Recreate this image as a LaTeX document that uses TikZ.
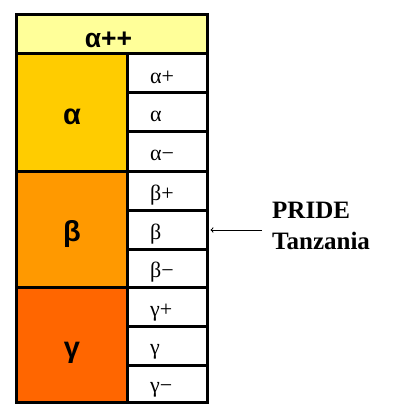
\documentclass[tikz,border=0pt]{standalone}
\usepackage{fontspec}
\setmainfont{Liberation Serif}
\newfontfamily\hdfont{Liberation Sans}
\begin{document}
\begin{tikzpicture}[x=1pt,y=-1pt,
  cell/.style={draw=black,line width=3pt,inner sep=0pt,anchor=north west},
  hdr/.style={font=\hdfont\bfseries\fontsize{26.5}{30}\selectfont,inner sep=0pt},
  big/.style={font=\hdfont\bfseries\fontsize{29}{32}\selectfont,inner sep=0pt},
  small/.style={font=\fontsize{22}{26}\selectfont,inner sep=0pt,anchor=west},
  lbl/.style={font=\bfseries\fontsize{25}{31}\selectfont,align=left,inner sep=0pt}]
\useasboundingbox (0,0) rectangle (393,412);
\definecolor{hdyellow}{HTML}{FFFF99}
\definecolor{ca}{HTML}{FFCC00}
\definecolor{cb}{HTML}{FF9900}
\definecolor{cg}{HTML}{FF6600}
% header
\node[cell,fill=hdyellow,minimum width=191pt,minimum height=39pt] (hd) at (15,13) {};
\node[hdr] (hdt) at (108.5,39.5) {α++};
% left blocks
\node[cell,fill=ca,minimum width=111pt,minimum height=118pt] (A) at (15,52) {};
\node[cell,fill=cb,minimum width=111pt,minimum height=116pt] (B) at (15,170) {};
\node[cell,fill=cg,minimum width=111pt,minimum height=115pt] (G) at (15,286) {};
\node[big] (At) at ([yshift=-4.5pt]A.center) {α};
\node[big] (Bt) at ([yshift=-4pt]B.center) {β};
\node[big] (Gt) at ([yshift=-8pt]G.center) {γ};
% sub cells
\node[cell,fill=white,minimum width=80pt,minimum height=39pt] (a1) at (126,52) {};
\node[cell,fill=white,minimum width=80pt,minimum height=39pt] (a2) at (126,91) {};
\node[cell,fill=white,minimum width=80pt,minimum height=40pt] (a3) at (126,130) {};
\node[cell,fill=white,minimum width=80pt,minimum height=39pt] (b1) at (126,170) {};
\node[cell,fill=white,minimum width=80pt,minimum height=39pt] (b2) at (126,209) {};
\node[cell,fill=white,minimum width=80pt,minimum height=38pt] (b3) at (126,248) {};
\node[cell,fill=white,minimum width=80pt,minimum height=39pt] (g1) at (126,286) {};
\node[cell,fill=white,minimum width=80pt,minimum height=39pt] (g2) at (126,325) {};
\node[cell,fill=white,minimum width=80pt,minimum height=37pt] (g3) at (126,364) {};
\node[small] (a1t) at ([xshift=24pt,yshift=-4pt]a1.west) {α+};
\node[small] (a2t) at ([xshift=24pt,yshift=-4pt]a2.west) {α};
\node[small] (a3t) at ([xshift=24pt,yshift=-4pt]a3.west) {α−};
\node[small] (b1t) at ([xshift=24pt,yshift=-4pt]b1.west) {β+};
\node[small] (b2t) at ([xshift=24pt,yshift=-4pt]b2.west) {β};
\node[small] (b3t) at ([xshift=24pt,yshift=-4pt]b3.west) {β−};
\node[small] (g1t) at ([xshift=24pt,yshift=-6pt]g1.west) {γ+};
\node[small] (g2t) at ([xshift=24pt,yshift=-6pt]g2.west) {γ};
\node[small] (g3t) at ([xshift=24pt,yshift=-6pt]g3.west) {γ−};
% label and arrow
\node[lbl,anchor=west] (pride) at (272,226) {PRIDE\\Tanzania};
\draw[->,line width=1pt,>=to] ([xshift=-10pt]pride.west |- b2.east) -- ([xshift=1.5pt]b2.east);
\end{tikzpicture}
\end{document}
